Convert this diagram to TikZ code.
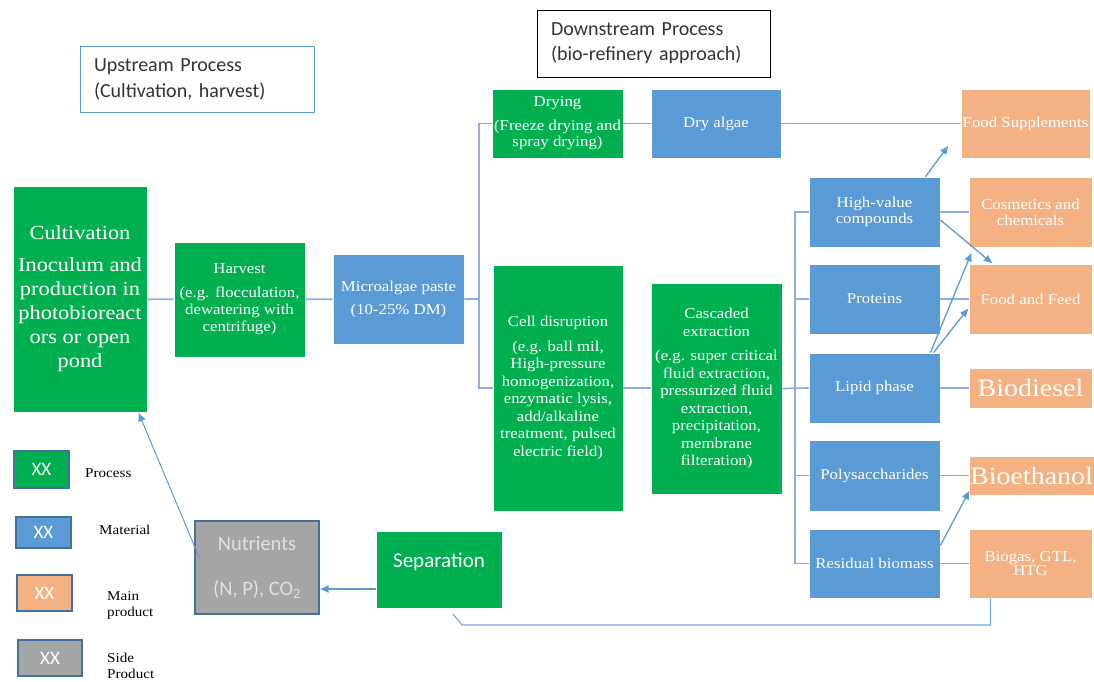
\documentclass[tikz,border=0pt]{standalone}
\usepackage{fontspec}
\setmainfont{Liberation Serif}[FakeStretch=1.12]
\newfontfamily\calib{Carlito}
\usetikzlibrary{positioning, arrows.meta, shapes}

\definecolor{procgreen}{RGB}{0,176,80}
\definecolor{matblue}{RGB}{91,155,213}
\definecolor{prodorange}{RGB}{244,177,131}
\definecolor{sidegray}{RGB}{165,165,165}
\definecolor{linkblue}{RGB}{143,172,222}
\definecolor{edgeblue}{RGB}{65,113,156}

\begin{document}
\begin{tikzpicture}[x=1pt,y=-1pt]
	\tikzstyle{box}=[draw=white,line width=0.8pt,text=white,align=center,inner sep=1pt,font=\fontsize{15}{17}\selectfont];
	\tikzstyle{process}=[box,fill=procgreen];
	\tikzstyle{material}=[box,fill=matblue];
	\tikzstyle{product}=[box,fill=prodorange];
	\tikzstyle{legend}=[draw=edgeblue,line width=1.1pt,text=white,font=\calib\fontsize{19}{22}\selectfont];
	\tikzstyle{legtext}=[anchor=west,inner sep=0pt,align=left,font=\fontsize{13.5}{16}\selectfont];
	\tikzstyle{link}=[draw=linkblue,line width=1.7pt];
	\tikzstyle{arrow}=[draw=matblue,line width=1.3pt,-{Latex[length=9pt,width=8pt]}];
	\useasboundingbox (0,0) rectangle (1094,681);

	% stage labels
	\node[draw=matblue, line width=1pt, text width=206pt, inner xsep=14pt, minimum height=66pt, align=left, text=black!80, font=\calib\fontsize{20}{26}\selectfont] (upstream) at (197,79) {Upstream Process\\(Cultivation, harvest)};
	\node[draw=black, line width=1pt, text width=205pt, inner xsep=14pt, minimum height=67pt, align=left, text=black!80, font=\calib\fontsize{20}{25}\selectfont] (downstream) at (653.5,43.5) {Downstream Process\\(bio-refinery approach)};

	% upstream
	\node[process, minimum width=134pt, minimum height=226pt, font=\fontsize{20}{24}\selectfont] (cult) at (80,299) {Cultivation\\[8pt]Inoculum and\\production in\\photobioreact\\ors or open\\pond};
	\node[process, minimum width=131pt, minimum height=115pt] (harvest) at (239.5,299.5) {Harvest\\[7pt](e.g. flocculation,\\dewatering with\\centrifuge)};
	\node[material, minimum width=131pt, minimum height=90pt, font=\fontsize{15}{23}\selectfont] (paste) at (398.5,299) {Microalgae paste\\(10-25\% DM)};

	% downstream
	\node[process, minimum width=131pt, minimum height=69pt, font=\fontsize{15}{16}\selectfont] (drying) at (557.5,123.5) {Drying\\[8pt](Freeze drying and\\spray drying)};
	\node[material, minimum width=130pt, minimum height=69pt] (dryalgae) at (716,123.5) {Dry algae};
	\node[process, minimum width=130pt, minimum height=246pt, font=\fontsize{15}{17.5}\selectfont] (celldis) at (558,388) {Cell disruption\\[7pt](e.g. ball mil,\\High-pressure\\homogenization,\\enzymatic lysis,\\add/alkaline\\treatment, pulsed\\electric field)};
	\node[process, minimum width=131pt, minimum height=211pt, font=\fontsize{15}{17.5}\selectfont] (cascade) at (716.5,388.5) {Cascaded\\extraction\\[7pt](e.g. super critical\\fluid extraction,\\pressurized fluid\\extraction,\\precipitation,\\membrane\\filteration)};

	\node[material, minimum width=131pt, minimum height=70pt, font=\fontsize{15}{16.5}\selectfont] (hv) at (874.5,212) {High-value\\compounds};
	\node[material, minimum width=131pt, minimum height=70pt] (prot) at (874.5,299) {Proteins};
	\node[material, minimum width=131pt, minimum height=70pt] (lipid) at (874.5,388) {Lipid phase};
	\node[material, minimum width=131pt, minimum height=71pt] (poly) at (874.5,475.5) {Polysaccharides};
	\node[material, minimum width=131pt, minimum height=69pt] (resid) at (874.5,563.5) {Residual biomass};

	% products
	\node[product, minimum width=129pt, minimum height=69pt] (foodsup) at (1025.5,123.5) {Food Supplements};
	\node[product, minimum width=123pt, minimum height=70pt, font=\fontsize{15}{16}\selectfont] (cosm) at (1030.5,212) {Cosmetics and\\chemicals};
	\node[product, minimum width=123pt, minimum height=70pt] (foodfeed) at (1030.5,299) {Food and Feed};
	\node[product, minimum width=123pt, minimum height=40pt, font=\fontsize{25}{28}\selectfont] (biodiesel) at (1030.5,388) {Biodiesel};
	\node[product, minimum width=125pt, minimum height=39pt, font=\fontsize{25}{28}\selectfont] (bioeth) at (1031.5,475.5) {Bioethanol};
	\node[product, minimum width=123pt, minimum height=69pt, font=\fontsize{15}{14}\selectfont] (biogas) at (1030.5,563.5) {Biogas, GTL,\\HTG};

	% recycling
	\node[process, minimum width=126pt, minimum height=77pt, text height=14pt, text depth=18pt, font=\calib\fontsize{21}{24}\selectfont] (sep) at (439,569.5) {Separation};
	\node[legend, fill=sidegray, minimum width=124pt, minimum height=93pt, align=center, text=white!88!black, font=\calib\fontsize{20.5}{24}\selectfont] (nutr) at (257,567.5) {Nutrients\\[21pt](N, P), CO\textsubscript{2}};

	% legend
	\node[legend, fill=procgreen, minimum width=55pt, minimum height=37pt] (lgproc) at (41.5,469.5) {XX};
	\node[legend, fill=matblue, minimum width=55pt, minimum height=31pt] (lgmat) at (43.5,532.5) {XX};
	\node[legend, fill=prodorange, minimum width=55pt, minimum height=36pt] (lgmain) at (44.5,593) {XX};
	\node[legend, fill=sidegray, minimum width=64pt, minimum height=36pt] (lgside) at (50,658) {XX};
	\node[legtext] (lgproctxt) at (85,473) {Process};
	\node[legtext] (lgmattxt) at (99,530) {Material};
	\node[legtext] (lgmaintxt) at (107,605) {Main\\product};
	\node[legtext] (lgsidetxt) at (107,666) {Side\\Product};

	% connectors
	\coordinate (lbus) at (479,299);
	\coordinate (rbus) at (795,388);
	\draw[link] (cult) -- (harvest) (harvest) -- (paste) (paste.east) -- (lbus);
	\draw[link] (drying.west) -| (lbus) |- (celldis.west);
	\draw[link] (drying) -- (dryalgae) (dryalgae) -- (foodsup) (celldis.east) -- (cascade.west |- celldis.east);
	\draw[link] (cascade.east) -- (lipid.west);
	\draw[link] (hv.west) -| (rbus) |- (resid.west);
	\draw[link] (prot.west) -- (prot.west -| rbus) (poly.west) -- (poly.west -| rbus);
	\draw[link] (hv) -- (cosm) (prot) -- (foodfeed) (lipid) -- (biodiesel) (poly) -- (bioeth) (resid) -- (biogas);

	\draw[arrow] ([xshift=51pt]hv.north) -- ([shift={(-12pt,13pt)}]foodsup.south west);
	\draw[arrow] ([yshift=-8pt]hv.east) -- ([xshift=24pt]foodfeed.north west);
	\draw[arrow] ([xshift=56pt]lipid.north) -- ([shift={(3pt,-5pt)}]cosm.south west);
	\draw[arrow] ([xshift=59pt]lipid.north) -- ([yshift=-9pt]foodfeed.west);
	\draw[arrow] ([yshift=18pt]resid.east) -- ([shift={(1pt,5pt)}]bioeth.south west);

	\coordinate (sepret) at (453,614);
	\draw[draw=matblue!85, line width=1.2pt] ([xshift=-40pt]biogas.south) |- (462,625) -- (sepret);
	\draw[arrow] ([yshift=-19.5pt]sep.west) -- ([yshift=-19.5pt]sep.west -| nutr.east);
	\draw[arrow, line width=1pt] ([shift={(5pt,9.5pt)}]nutr.west) -- ([xshift=-9pt]cult.south east);
\end{tikzpicture}
\end{document}
